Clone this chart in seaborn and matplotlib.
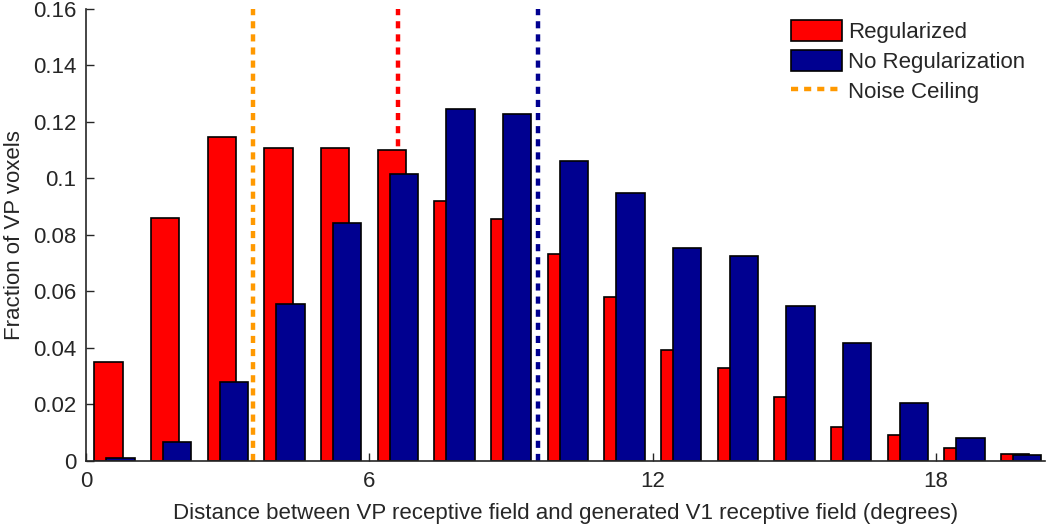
import numpy as np
import pandas as pd
import matplotlib
matplotlib.use("Agg")
import matplotlib.pyplot as plt
import seaborn as sns
from matplotlib.lines import Line2D
from matplotlib.patches import Patch

# bin centres of the distance histogram (degrees)
bin_centers = [0.6, 1.8, 3.0, 4.2, 5.4, 6.6, 7.8, 9.0, 10.2, 11.4,
               12.6, 13.8, 15.0, 16.2, 17.4, 18.6, 19.8]
regularized = [0.0352, 0.0861, 0.1146, 0.1107, 0.1107, 0.1102, 0.0921, 0.0857, 0.0734,
               0.0581, 0.0393, 0.0329, 0.0227, 0.0121, 0.0092, 0.0047, 0.0025]
no_regularization = [0.0012, 0.0068, 0.0280, 0.0555, 0.0841, 0.1015, 0.1246, 0.1229, 0.1062,
                     0.0949, 0.0754, 0.0725, 0.0548, 0.0418, 0.0206, 0.0083, 0.0020]

# vertical reference lines (means)
noise_ceiling = 3.54
mean_regularized = 6.6
mean_no_regularization = 9.57

x_ticks = [0, 6, 12, 18]
y_ticks = [0, 0.02, 0.04, 0.06, 0.08, 0.1, 0.12, 0.14, 0.16]
y_tick_labels = ["0", "0.02", "0.04", "0.06", "0.08", "0.1", "0.12", "0.14", "0.16"]

RED = "#FF0000"
BLUE = "#000090"
ORANGE = "#FF9900"

sns.set_style("ticks")
plt.rcParams["font.family"] = ["Liberation Sans", "DejaVu Sans"]
plt.rcParams["font.size"] = 16

offset = 0.125
df_reg = pd.DataFrame({"x": np.array(bin_centers) - offset, "y": regularized})
df_noreg = pd.DataFrame({"x": np.array(bin_centers) + offset, "y": no_regularization})

fig, ax = plt.subplots(figsize=(10.5, 5.25), dpi=100)
fig.subplots_adjust(left=0.082, right=0.995, bottom=0.122, top=0.983)

sns.barplot(data=df_reg, x="x", y="y", native_scale=True, width=0.5,
            color=RED, saturation=1, edgecolor="black", linewidth=1.2,
            errorbar=None, ax=ax, zorder=2)
sns.barplot(data=df_noreg, x="x", y="y", native_scale=True, width=0.5,
            color=BLUE, saturation=1, edgecolor="black", linewidth=1.2,
            errorbar=None, ax=ax, zorder=2)

dash = (1.6, 1.35)
for xv, col in [(noise_ceiling, ORANGE), (mean_regularized, RED),
                (mean_no_regularization, BLUE)]:
    ax.axvline(xv, color=col, linewidth=3.2, linestyle=(0, dash), zorder=1)

ax.set_xlim(0, 20.3)
ax.set_ylim(0, 0.16)
ax.set_xticks(x_ticks)
ax.set_xticklabels([str(t) for t in x_ticks])
ax.set_yticks(y_ticks)
ax.set_yticklabels(y_tick_labels)
ax.tick_params(direction="in", length=6, width=1, labelsize=16, pad=7)
ax.set_xlabel("Distance between VP receptive field and generated V1 receptive field (degrees)",
              fontsize=16, labelpad=8)
ax.set_ylabel("Fraction of VP voxels", fontsize=16, labelpad=6)
sns.despine(ax=ax)
for sp in ["left", "bottom"]:
    ax.spines[sp].set_linewidth(1.2)
    ax.spines[sp].set_zorder(3)

handles = [Patch(facecolor=RED, edgecolor="black", linewidth=1.2),
           Patch(facecolor=BLUE, edgecolor="black", linewidth=1.2),
           Line2D([0], [0], color=ORANGE, linewidth=3.2, linestyle=(0, dash))]
ax.legend(handles, ["Regularized", "No Regularization", "Noise Ceiling"],
          loc="upper right", frameon=False, fontsize=16, handlelength=2.3,
          handleheight=1.1, handletextpad=0.25, labelspacing=0.3,
          bbox_to_anchor=(1.0, 1.02))

fig.savefig("out.png", dpi=100)
